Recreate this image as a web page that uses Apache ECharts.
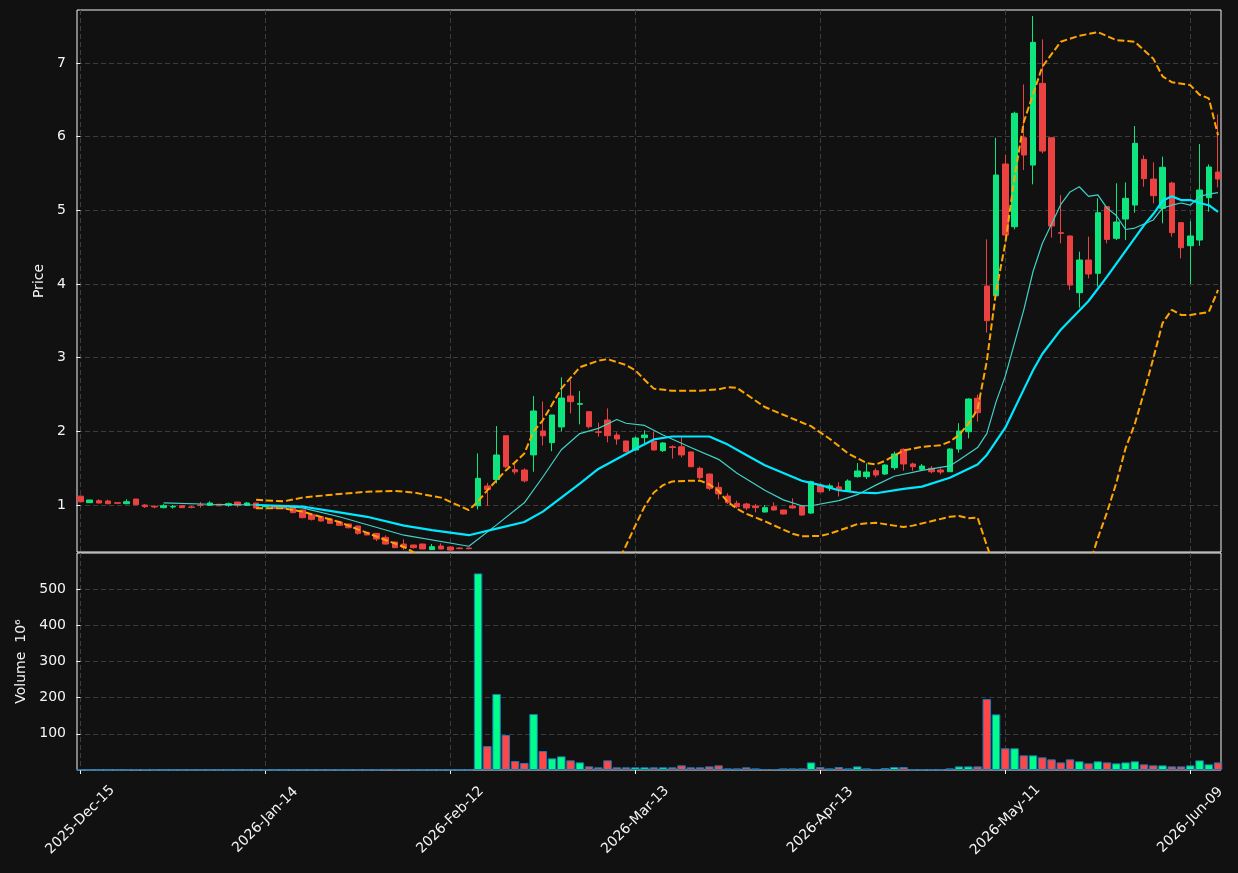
<!DOCTYPE html>
<html>
<head>
    <meta charset="UTF-8">
    <title>Price / Volume</title>
    <script type="text/javascript" src="https://cdn.jsdelivr.net/npm/echarts/dist/echarts.min.js"></script>
    <style>
        body { margin: 0; background: #111111; }
    </style>
</head>
<body>
    <div id="main" style="width: 1238px;height:873px;"></div>

    <script type="text/javascript">

    // colours
    var bg = '#111111';
    var frame = '#f4f4f4';
    var gridGrey = '#3d3d3d';
    var upCandle = '#0fe57f';
    var downCandle = '#ec4141';
    var upVol = '#00ff88';
    var downVol = '#ff4747';
    var volEdge = '#1f77b4';
    var maFast = '#3fd3c7';
    var maSlow = '#00e8ff';
    var band = '#ffa500';

    // tick labels on the date axis (bar index -> label)
    var tickIdx = [0, 20, 40, 60, 80, 100, 120];
    var tickLabels = ['2025-Dec-15', '2026-Jan-14', '2026-Feb-12', '2026-Mar-13',
                      '2026-Apr-13', '2026-May-11', '2026-Jun-09'];

    // OHLC, one value per trading day (124 bars)
    var opens = [1.12,1.032,1.059,1.054,1.032,1.018,1.081,1.0,0.982,0.964,
        0.973,0.991,0.973,1.0,0.995,1.01,0.995,1.04,0.995,1.027,
        0.977,0.977,0.977,0.973,0.932,0.869,0.842,0.81,0.769,0.742,
        0.715,0.629,0.615,0.561,0.498,0.47,0.457,0.47,0.394,0.443,
        0.43,0.416,0.416,0.99,1.258,1.345,1.94,1.48,1.475,1.68,
        2.005,1.846,2.06,2.48,2.367,2.267,1.995,2.154,1.95,1.869,
        1.747,1.914,1.864,1.738,1.79,1.79,1.72,1.498,1.42,1.24,
        1.122,1.023,1.014,0.986,0.905,0.977,0.932,0.986,0.986,0.89,
        1.27,1.232,1.246,1.19,1.385,1.385,1.466,1.421,1.507,1.756,
        1.557,1.484,1.498,1.475,1.452,1.76,1.995,2.45,3.973,3.84,
        5.629,4.778,5.986,5.615,6.724,5.986,4.697,4.652,3.882,4.326,
        4.145,5.05,4.62,4.882,5.072,5.692,5.425,5.027,5.371,4.833,
        4.52,4.597,5.172,5.52];
    var closes = [1.045,1.068,1.027,1.018,1.023,1.045,1.005,0.977,0.973,0.991,
        0.982,0.964,0.968,0.995,1.027,0.99,1.018,0.995,1.027,0.959,
        0.995,0.955,0.95,0.896,0.828,0.805,0.783,0.751,0.724,0.692,
        0.615,0.593,0.538,0.47,0.421,0.421,0.421,0.403,0.434,0.403,
        0.389,0.407,0.407,1.362,1.21,1.679,1.52,1.45,1.328,2.276,
        1.94,2.222,2.452,2.403,2.376,2.063,1.986,1.941,1.896,1.724,
        1.91,1.95,1.747,1.842,1.78,1.68,1.52,1.371,1.226,1.15,
        1.032,0.977,0.959,0.964,0.964,0.932,0.878,0.96,0.864,1.317,
        1.178,1.26,1.204,1.326,1.462,1.448,1.407,1.543,1.692,1.557,
        1.52,1.529,1.452,1.448,1.76,2.004,2.439,2.253,3.502,5.48,
        4.665,6.317,5.751,7.281,5.805,4.787,4.688,3.986,4.326,4.136,
        4.968,4.606,4.842,5.163,5.91,5.43,5.199,5.584,4.697,4.493,
        4.652,5.276,5.588,5.425];
    var lows = [1.04,1.03,1.023,1.01,1.02,1.01,1.0,0.96,0.955,0.955,
        0.95,0.96,0.955,0.964,0.99,0.985,0.977,0.968,0.99,0.955,
        0.97,0.95,0.945,0.89,0.82,0.79,0.775,0.745,0.72,0.68,
        0.597,0.59,0.51,0.46,0.415,0.39,0.407,0.40,0.39,0.40,
        0.385,0.40,0.40,0.94,0.99,1.294,1.50,1.416,1.308,1.452,
        1.808,1.73,2.0,2.244,2.095,2.04,1.928,1.851,1.819,1.715,
        1.74,1.837,1.74,1.72,1.63,1.647,1.515,1.348,1.2,1.077,
        1.014,0.955,0.93,0.9,0.9,0.925,0.87,0.95,0.855,0.88,
        1.17,1.19,1.115,1.185,1.371,1.353,1.376,1.407,1.475,1.466,
        1.466,1.466,1.43,1.416,1.45,1.71,1.905,2.131,3.339,3.8,
        4.643,4.742,5.548,5.353,5.774,4.629,4.552,3.919,3.679,4.077,
        3.964,4.552,4.597,4.597,4.968,5.321,5.095,4.824,4.643,4.348,
        4.0,4.52,4.982,5.312];
    var highs = [1.125,1.07,1.077,1.072,1.035,1.077,1.081,1.01,0.995,1.01,
        1.0,0.995,0.99,1.04,1.05,1.012,1.032,1.04,1.04,1.03,
        1.0,0.98,0.98,0.98,0.935,0.87,0.845,0.815,0.775,0.745,
        0.72,0.635,0.62,0.588,0.5,0.534,0.46,0.475,0.47,0.48,
        0.435,0.425,0.42,1.70,1.30,2.072,1.94,1.588,1.498,2.48,
        2.405,2.222,2.733,2.697,2.548,2.267,2.118,2.312,1.986,1.87,
        1.93,2.014,1.995,1.855,1.81,1.916,1.725,1.52,1.43,1.308,
        1.158,1.059,1.03,1.014,1.0,1.036,0.935,1.09,1.0,1.33,
        1.29,1.29,1.31,1.348,1.57,1.566,1.498,1.552,1.724,1.769,
        1.575,1.557,1.529,1.498,1.77,2.11,2.45,2.5,4.606,5.986,
        5.751,6.34,6.71,7.638,7.321,5.99,5.208,4.66,4.439,4.643,
        5.163,5.05,5.367,5.38,6.145,5.747,5.652,5.729,5.389,4.842,
        4.855,5.9,5.624,6.303];

    // volume in millions
    var volumes = [1.5,0.3,0.3,0.3,0.3,0.3,1.5,1.5,0.2,0.2,
        0.2,0.2,0.2,0.2,0.2,0.2,0.2,0.2,0.2,1.0,
        0.2,0.2,0.2,0.8,0.8,0.8,0.8,0.8,0.8,0.8,
        0.8,0.8,0.8,3.0,3.0,3.0,0.8,0.8,0.8,0.8,
        0.8,0.8,0.8,543,66,210,96.5,24.8,19.3,154.5,
        52.4,32.2,37.7,26.7,21.1,10.1,7.4,26.7,7.4,7.4,
        7.4,7.4,7.4,7.4,7.4,12.9,7.4,7.4,10,12.9,
        4.6,4.6,7.4,4.6,2.8,2.8,4.6,4.6,4.6,21,
        8,4.6,8.3,4.6,10,4.6,2,5.5,8.3,8.3,
        1.5,1.5,1.5,1.5,4.6,10,10,10,196,153.6,
        60,60,40.5,40.5,35,29.4,21,29.4,24,18.4,
        24,21,18.4,21,24,15.6,12.9,12.9,10,10,
        12.9,26.7,15.6,21];

    // overlay lines: [bar index, price]
    var ma10 = [[9,1.03],[14,1.01],[19,1.0],[24,0.96],[28,0.84],[35,0.59],[42,0.44],
        [45,0.73],[48,1.03],[50,1.38],[52,1.75],[54,1.97],[56,2.04],[58,2.16],[59,2.11],
        [61,2.08],[63,1.95],[66,1.78],[69,1.62],[71,1.43],[74,1.2],[76,1.07],[78,0.99],
        [79,0.99],[82,1.06],[84,1.14],[86,1.27],[88,1.39],[91,1.47],[94,1.53],[95,1.61],
        [97,1.78],[98,1.97],[99,2.4],[100,2.75],[101,3.2],[102,3.65],[103,4.17],[104,4.55],
        [106,5.08],[107,5.25],[108,5.32],[109,5.19],[110,5.21],[111,5.03],[112,4.93],
        [113,4.74],[114,4.76],[116,4.87],[117,5.03],[118,5.07],[119,5.1],[120,5.07],
        [121,5.19],[122,5.22],[123,5.24]];
    var ma20 = [[19,1.0],[24,0.98],[28,0.9],[31,0.84],[35,0.72],[38,0.66],[42,0.59],
        [45,0.68],[48,0.77],[50,0.91],[54,1.29],[56,1.49],[60,1.76],[62,1.89],[64,1.93],
        [68,1.93],[70,1.82],[72,1.68],[74,1.54],[78,1.33],[80,1.27],[82,1.2],[84,1.17],
        [86,1.16],[89,1.22],[91,1.25],[94,1.37],[97,1.55],[98,1.68],[100,2.05],[102,2.57],
        [103,2.83],[104,3.05],[106,3.38],[109,3.77],[111,4.1],[113,4.45],[115,4.8],
        [116,4.95],[117,5.13],[118,5.19],[119,5.14],[120,5.14],[121,5.1],[122,5.07],[123,4.98]];
    var bandUpper = [[19,1.07],[22,1.05],[24,1.1],[28,1.15],[31,1.18],[34,1.19],[36,1.17],
        [39,1.1],[42,0.93],[43,1.05],[44,1.2],[46,1.47],[47,1.58],[48,1.7],[49,2.0],
        [50,2.15],[52,2.58],[54,2.87],[56,2.96],[57,2.98],[59,2.9],[60,2.83],[61,2.7],
        [62,2.58],[64,2.55],[67,2.55],[69,2.57],[70,2.6],[71,2.59],[74,2.33],[78,2.12],
        [79,2.07],[81,1.9],[83,1.7],[85,1.57],[86,1.55],[87,1.6],[89,1.74],[91,1.79],
        [93,1.81],[94,1.86],[95,1.95],[96,2.1],[97,2.3],[98,2.95],[99,3.9],[100,4.55],
        [101,5.45],[102,6.2],[104,6.95],[106,7.29],[108,7.37],[110,7.42],[112,7.31],
        [114,7.29],[116,7.06],[117,6.82],[118,6.74],[120,6.7],[121,6.57],[122,6.52],[123,6.02]];
    var bandLower = [[19,0.955],[22,0.955],[24,0.91],[28,0.77],[30,0.67],[33,0.525],[35,0.43],
        [36,0.36],[37,0.28],[38,0.2],[58,0.2],[59,0.45],[60,0.72],[61,0.98],[62,1.17],
        [63,1.27],[64,1.32],[66,1.33],[67,1.33],[68,1.28],[69,1.19],[70,1.04],[71,0.95],
        [72,0.88],[74,0.78],[77,0.61],[78,0.575],[80,0.58],[81,0.61],[84,0.74],[86,0.76],
        [88,0.72],[89,0.7],[90,0.72],[92,0.78],[94,0.84],[95,0.85],[96,0.82],[97,0.83],
        [98,0.45],[99,0.1],[108,0.1],[109,0.15],[110,0.55],[111,0.9],[112,1.3],[113,1.77],
        [114,2.1],[115,2.53],[116,2.99],[117,3.47],[118,3.65],[119,3.58],[120,3.58],
        [121,3.6],[122,3.62],[123,3.92]];

    var font = 'DejaVu Sans';
    var dashed = {color: gridGrey, type: [5, 3], width: 1};

    // build series data from the arrays
    var candleData = [];
    var volData = [];
    for (var i = 0; i < opens.length; i++) {
        candleData.push([i, opens[i], closes[i], lows[i], highs[i]]);
        var up = closes[i] >= opens[i];
        volData.push({
            value: [i, volumes[i]],
            itemStyle: {color: up ? upVol : downVol}
        });
    }

    function xAxisFor(gridIndex, withLabels) {
        return {
            type: 'value',
            gridIndex: gridIndex,
            min: -0.36,
            max: 123.32,
            axisLine: {show: false},
            axisTick: {
                show: withLabels,
                customValues: tickIdx,
                length: 4,
                lineStyle: {color: frame}
            },
            axisLabel: {
                show: withLabels,
                customValues: tickIdx,
                rotate: 45,
                // centred under the tick, like matplotlib's ha='center'
                align: 'center',
                verticalAlign: 'middle',
                margin: 50,
                color: frame,
                fontFamily: font,
                fontSize: 14,
                formatter: function (v) {
                    var k = tickIdx.indexOf(Math.round(v));
                    return k >= 0 ? tickLabels[k] : '';
                }
            },
            splitLine: {show: true, lineStyle: dashed}
        };
    }

    var chart = echarts.init(document.getElementById('main'));

    var option = {
        backgroundColor: bg,
        animation: false,
        grid: [
            {left: 77, right: 17, top: 10, height: 542, show: true,
             borderColor: frame, borderWidth: 1, backgroundColor: bg},
            {left: 77, right: 17, top: 553, height: 217, show: true,
             borderColor: frame, borderWidth: 1, backgroundColor: bg}
        ],
        xAxis: [xAxisFor(0, false), xAxisFor(1, true)],
        yAxis: [
            {
                type: 'value',
                gridIndex: 0,
                min: 0.362,
                max: 7.72,
                name: 'Price',
                nameLocation: 'middle',
                nameGap: 24,
                nameTextStyle: {color: frame, fontFamily: font, fontSize: 14},
                axisLine: {show: false},
                axisTick: {show: true, length: 4, customValues: [1, 2, 3, 4, 5, 6, 7],
                           lineStyle: {color: frame}},
                axisLabel: {customValues: [1, 2, 3, 4, 5, 6, 7], color: frame,
                            fontFamily: font, fontSize: 14, margin: 11},
                splitLine: {show: true, lineStyle: dashed}
            },
            {
                type: 'value',
                gridIndex: 1,
                min: 0,
                max: 599.3,
                name: 'Volume  10\u2076',
                nameLocation: 'middle',
                nameGap: 49,
                nameTextStyle: {color: frame, fontFamily: font, fontSize: 14},
                axisLine: {show: false},
                axisTick: {show: true, length: 4, customValues: [100, 200, 300, 400, 500],
                           lineStyle: {color: frame}},
                axisLabel: {customValues: [100, 200, 300, 400, 500], color: frame,
                            fontFamily: font, fontSize: 14, margin: 11},
                splitLine: {show: true, lineStyle: dashed}
            }
        ],
        series: [
            {
                name: 'Upper band',
                type: 'line',
                xAxisIndex: 0, yAxisIndex: 0,
                data: bandUpper,
                showSymbol: false,
                lineStyle: {color: band, width: 2, type: [7, 3]},
                z: 3
            },
            {
                name: 'Lower band',
                type: 'line',
                xAxisIndex: 0, yAxisIndex: 0,
                data: bandLower,
                showSymbol: false,
                lineStyle: {color: band, width: 2, type: [7, 3]},
                z: 3
            },
            {
                name: 'OHLC',
                type: 'candlestick',
                xAxisIndex: 0, yAxisIndex: 0,
                data: candleData,
                encode: {x: 0, y: [1, 2, 3, 4]},
                barWidth: 6,
                itemStyle: {
                    color: upCandle, color0: downCandle,
                    borderColor: upCandle, borderColor0: downCandle,
                    borderWidth: 1
                },
                z: 2
            },
            {
                name: 'MA10',
                type: 'line',
                xAxisIndex: 0, yAxisIndex: 0,
                data: ma10,
                showSymbol: false,
                lineStyle: {color: maFast, width: 1.2},
                z: 4
            },
            {
                name: 'MA20',
                type: 'line',
                xAxisIndex: 0, yAxisIndex: 0,
                data: ma20,
                showSymbol: false,
                lineStyle: {color: maSlow, width: 2.2},
                z: 4
            },
            {
                name: 'Volume',
                type: 'bar',
                xAxisIndex: 1, yAxisIndex: 1,
                data: volData,
                barWidth: 8.5,
                itemStyle: {borderColor: volEdge, borderWidth: 1}
            }
        ]
    };

    chart.setOption(option);
    </script>
</body>
</html>
